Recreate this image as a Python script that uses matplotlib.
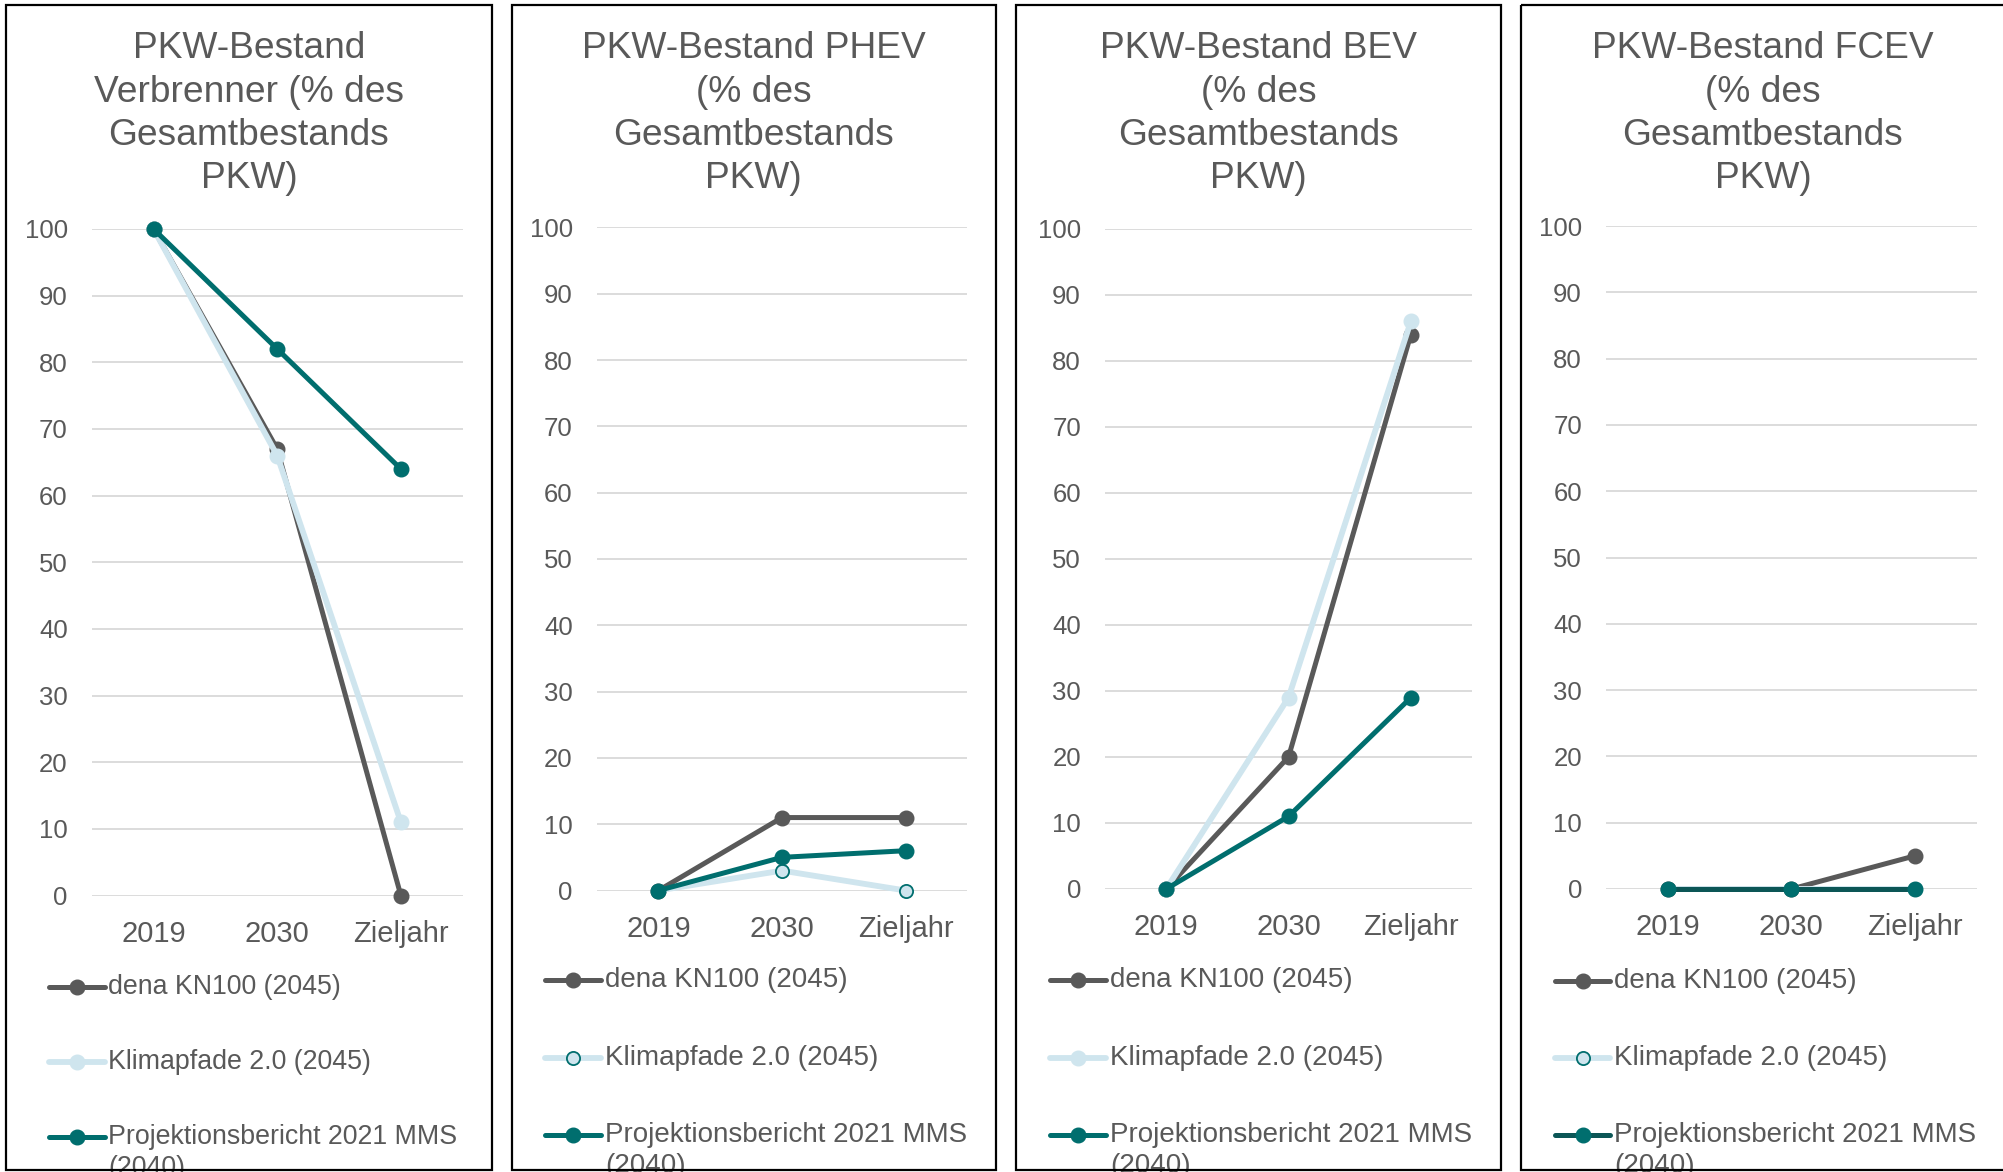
import matplotlib
matplotlib.use("Agg")
import matplotlib.pyplot as plt
from matplotlib.patches import Rectangle

plt.rcParams['font.family'] = ['Liberation Sans', 'DejaVu Sans']

# ---- data -------------------------------------------------------------
categories = ["2019", "2030", "Zieljahr"]
series_names = ["dena KN100 (2045)", "Klimapfade 2.0 (2045)",
                "Projektionsbericht 2021 MMS", "(2040)"]
y_ticks = list(range(0, 101, 10))

titles = [
    ["PKW-Bestand", "Verbrenner (% des", "Gesamtbestands", "PKW)"],
    ["PKW-Bestand PHEV", "(% des", "Gesamtbestands", "PKW)"],
    ["PKW-Bestand BEV", "(% des", "Gesamtbestands", "PKW)"],
    ["PKW-Bestand FCEV", "(% des", "Gesamtbestands", "PKW)"],
]

verbrenner_dena = [100, 67, 0]
verbrenner_klima = [100, 66, 11]
verbrenner_proj = [100, 82, 64]

phev_dena = [0, 11, 11]
phev_klima = [0, 3, 0]
phev_proj = [0, 5, 6]

bev_dena = [0, 20, 84]
bev_klima = [0, 29, 86]
bev_proj = [0, 11, 29]

fcev_dena = [0, 0, 5]
fcev_klima = [0, 0, 0]
fcev_proj = [0, 0, 0]

panel_data = [
    (verbrenner_dena, verbrenner_klima, verbrenner_proj),
    (phev_dena, phev_klima, phev_proj),
    (bev_dena, bev_klima, bev_proj),
    (fcev_dena, fcev_klima, fcev_proj),
]

# ---- style ------------------------------------------------------------
W, H = 2003, 1172
DPI = 100
TXT = "#595959"
GRID = "#D9D9D9"
C_DENA = "#595959"
C_KLIMA = "#CFE5EE"
C_PROJ = "#006E6E"
C_PROJ_DARK = "#0C5656"

# layout in pixels (left, right, top, bottom)
frames = [(6, 492, 5, 1170), (511.5, 996, 5, 1170),
          (1016, 1501, 5, 1170), (1521, 2010, 5, 1170)]
plots = [(91.7, 462.7, 229, 895.5), (596.7, 967.3, 227.4, 890.5),
         (1105, 1472, 229, 889), (1606, 1976.7, 226, 889)]
legend_rows = [(987, 1062, 1137), (980, 1058, 1135),
               (980, 1058, 1135), (981, 1058, 1135)]
legend_x = [(49, 105, 108), (545, 601, 605), (1050, 1106, 1110), (1555, 1610, 1614)]
legend_fs = [19.3, 20, 20, 20]
klima_ring = [False, True, False, True]
proj_line = [C_PROJ, C_PROJ, C_PROJ, C_PROJ_DARK]
title_baselines = [58, 101.5, 145, 188.5]
title_centers = [249, 753.5, 1258.5, 1763]

fig = plt.figure(figsize=(W / DPI, H / DPI), dpi=DPI)
fig.patch.set_facecolor("white")

# overlay in pixel coordinates for frames, titles and legends
ov = fig.add_axes([0, 0, 1, 1])
ov.set_xlim(0, W)
ov.set_ylim(H, 0)
ov.axis("off")
ov.set_zorder(0)


def rect(l, r, t, b):
    return [l / W, 1 - b / H, (r - l) / W, (b - t) / H]


LW = 3.6
LW_K = 4.2
MS = 10.5
MS_RING = 9.5

for i in range(4):
    fl, fr, ft, fb = frames[i]
    frame = Rectangle((fl, ft), fr - fl, fb - ft, fill=False,
                      edgecolor="black", linewidth=1.6, zorder=5)
    ov.add_patch(frame)

    # title, line by line
    for line, yb in zip(titles[i], title_baselines):
        ov.text(title_centers[i], yb, line, ha="center", va="baseline",
                fontsize=26.7, color=TXT)

    # chart
    pl, pr, pt, pb = plots[i]
    ax = fig.add_axes(rect(pl, pr, pt, pb))
    ax.set_zorder(2)
    ax.patch.set_alpha(0)
    dena, klima, proj = panel_data[i]
    x = list(range(len(categories)))

    ax.plot(x, dena, color=C_DENA, lw=LW, marker="o", ms=MS,
            mfc=C_DENA, mec=C_DENA, clip_on=False, zorder=3)
    if klima_ring[i]:
        ax.plot(x, klima, color=C_KLIMA, lw=LW_K, marker="o", ms=MS_RING,
                mfc=C_KLIMA, mec=C_PROJ, mew=1.3, clip_on=False, zorder=4)
    else:
        ax.plot(x, klima, color=C_KLIMA, lw=LW_K, marker="o", ms=MS,
                mfc=C_KLIMA, mec=C_KLIMA, clip_on=False, zorder=4)
    ax.plot(x, proj, color=proj_line[i], lw=LW, marker="o", ms=MS,
            mfc=C_PROJ, mec=C_PROJ, clip_on=False, zorder=5)

    ax.set_xlim(-0.5, 2.5)
    ax.set_ylim(0, 100)
    ax.set_yticks(y_ticks)
    ax.set_xticks(x)
    ax.set_xticklabels(categories)
    ax.grid(axis="y", color=GRID, linewidth=1.3)
    ax.set_axisbelow(True)
    for s in ax.spines.values():
        s.set_visible(False)
    ax.tick_params(axis="y", length=0, pad=17.3, labelsize=18.5,
                   labelcolor=TXT)
    ax.tick_params(axis="x", length=0, pad=17.5, labelsize=21,
                   labelcolor=TXT)

    # legend entries
    x0, x1, xt = legend_x[i]
    xm = (x0 + x1) / 2
    ya, yb_, yc = legend_rows[i]
    fs = legend_fs[i]
    ov.plot([x0, x1], [ya, ya], color=C_DENA, lw=LW, solid_capstyle="round")
    ov.plot([xm], [ya], marker="o", ms=MS, color=C_DENA)
    ov.plot([x0, x1], [yb_, yb_], color=C_KLIMA, lw=LW_K,
            solid_capstyle="round")
    if klima_ring[i]:
        ov.plot([xm], [yb_], marker="o", ms=MS_RING, mfc=C_KLIMA,
                mec=C_PROJ, mew=1.3)
    else:
        ov.plot([xm], [yb_], marker="o", ms=MS, color=C_KLIMA)
    ov.plot([x0, x1], [yc, yc], color=proj_line[i], lw=LW,
            solid_capstyle="round")
    ov.plot([xm], [yc], marker="o", ms=MS, mfc=C_PROJ, mec=C_PROJ)

    # the wrapped second line of the last entry runs past the frame edge
    for label, yy in zip(series_names, (ya, yb_, yc, yc + 31)):
        t = ov.text(xt, yy, label, ha="left", va="center", fontsize=fs,
                    color=TXT)
        t.set_clip_path(frame)

fig.savefig("out.png", dpi=DPI, facecolor="white")
